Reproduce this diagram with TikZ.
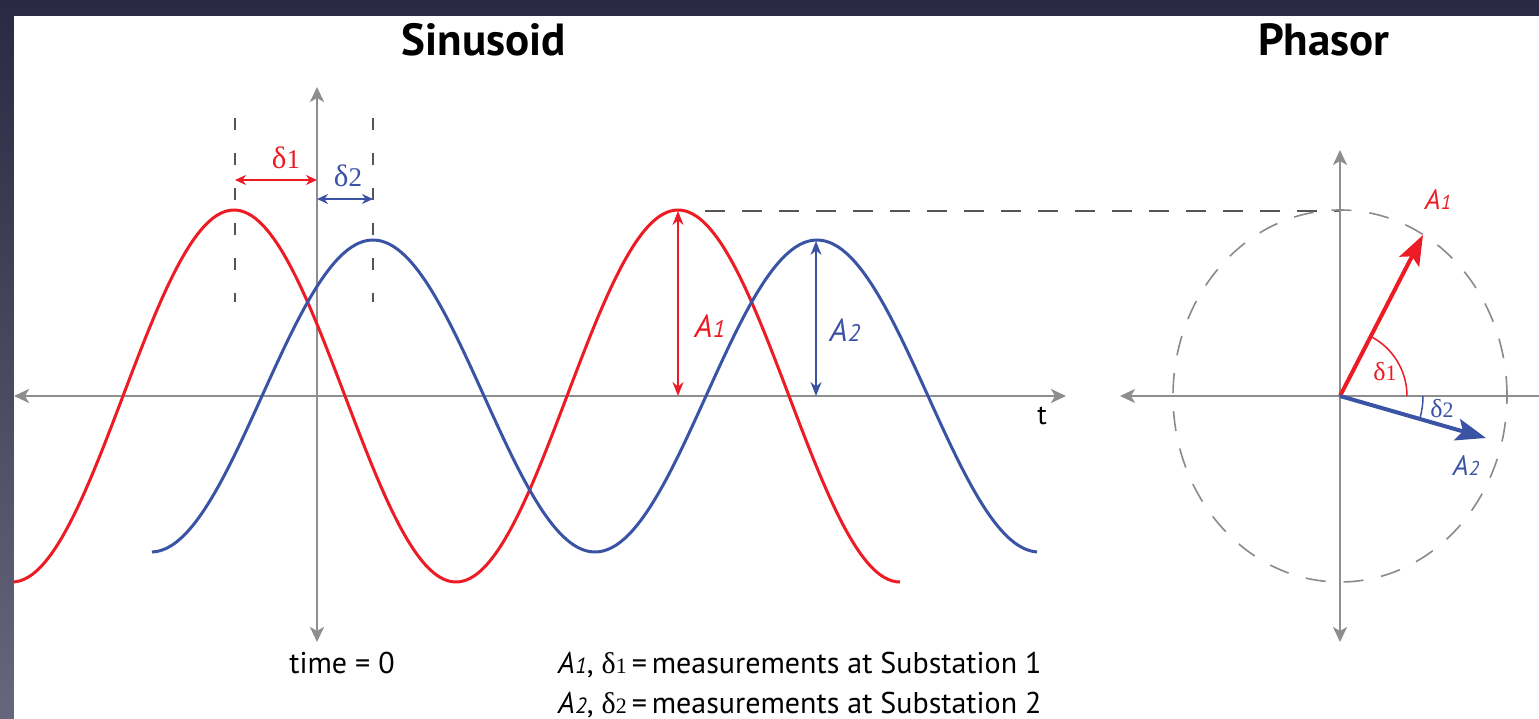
\documentclass[tikz,border=0pt]{standalone}
\usepackage{fontspec}
\setmainfont{PT Sans}
\newfontfamily\serifgr{Liberation Serif}
\usetikzlibrary{arrows.meta}
\definecolor{sred}{HTML}{ED1C24}
\definecolor{sblue}{HTML}{3A53A4}
\definecolor{axgray}{HTML}{8E8E8E}
\definecolor{dashgray}{HTML}{555555}
\definecolor{circgray}{HTML}{8A8A8A}
\definecolor{bgtop}{HTML}{2A2943}
\definecolor{bgbot}{HTML}{66667C}
\newcommand{\myA}[3]{{\fontsize{#1}{#1}\selectfont\itshape A\kern0.5pt{\fontsize{#2}{#2}\selectfont #3}}}
\newcommand{\myD}[3]{{\serifgr\fontsize{#1}{#1}\selectfont δ{\fontsize{#2}{#2}\selectfont #3}}}
\tikzset{
  axisline/.style={draw=axgray, line width=2.6pt, -{Stealth[length=15pt,width=14pt,inset=4pt]}},
  redwave/.style={draw=sred, line width=3pt},
  bluewave/.style={draw=sblue, line width=3pt},
  vdash/.style={draw=dashgray, line width=2pt, dash pattern=on 12pt off 23pt},
  hdash/.style={draw=dashgray, line width=2pt, dash pattern=on 20pt off 17pt},
  circdash/.style={draw=circgray, line width=1.6pt, dash pattern=on 20pt off 18pt},
  dimred/.style={draw=sred, line width=2pt, {Stealth[length=11pt,width=10pt]}-{Stealth[length=11pt,width=10pt]}},
  dimblue/.style={draw=sblue, line width=2pt, {Stealth[length=11pt,width=10pt]}-{Stealth[length=11pt,width=10pt]}},
  amped/.style={line width=1.5pt, {Stealth[length=14pt,width=11pt]}-{Stealth[length=14pt,width=11pt]}},
  vecarrow/.style={line width=4pt, -{Stealth[length=30pt,width=22pt,inset=6pt]}},
  lbl/.style={inner sep=0pt},
  title/.style={inner sep=0pt, font=\fontsize{45}{45}\selectfont\bfseries},
}
\begin{document}
\begin{tikzpicture}[x=1pt, y=-1pt]
\useasboundingbox (0,0) rectangle (1539,719);
\shade[top color=bgtop, bottom color=bgbot] (0,0) rectangle (1539,719);
\fill[white] (14,16) rectangle (1539,719);

% titles
\node[title] (tsin) at (484,40) {Sinusoid};
\node[title] (tpha) at (1324,40) {Phasor};

% sinusoid axes
\coordinate (hL) at (14,396);
\coordinate (hR) at (1066,396);
\coordinate (o) at (317,396);
\coordinate (vT) at (317,87);
\coordinate (vB) at (317,642);
\draw[axisline] (o) -- (hL);
\draw[axisline] (o) -- (hR);
\draw[axisline] (o) -- (vT);
\draw[axisline] (o) -- (vB);
\node[lbl, font=\fontsize{28}{28}\selectfont] (tl) at (1042,416) {t};

% waves
\draw[redwave] plot[domain=14:900, samples=240, smooth] (\x, {396-186*cos(0.810811*(\x-234))});
\draw[bluewave] plot[domain=152:1037, samples=240, smooth] (\x, {396-156*cos(0.810811*(\x-373))});

% delta markers
\coordinate (d1t) at (235,118);
\coordinate (d1b) at (235,302);
\coordinate (d2t) at (373,118);
\coordinate (d2b) at (373,302);
\draw[vdash] (d1t) -- (d1b);
\draw[vdash] (d2t) -- (d2b);
\coordinate (d1a) at (235,180);
\coordinate (d1c) at (317,180);
\coordinate (d2a) at (317,199);
\coordinate (d2c) at (373,199);
\draw[dimred] (d1a) -- (d1c);
\draw[dimblue] (d2a) -- (d2c);
\node[lbl, text=sred] (ld1) at (286,158) {\myD{31}{27}{1}};
\node[lbl, text=sblue] (ld2) at (348,176) {\myD{31}{27}{2}};

% amplitudes
\coordinate (a1t) at (678,211);
\coordinate (a1b) at (678,396);
\coordinate (a2t) at (816,241);
\coordinate (a2b) at (816,396);
\draw[amped, draw=sred, fill=sred] (a1t) -- (a1b);
\draw[amped, draw=sblue, fill=sblue] (a2t) -- (a2b);
\node[lbl, text=sred] (la1) at (710,326) {\myA{32}{24}{1}};
\node[lbl, text=sblue] (la2) at (845,330) {\myA{32}{24}{2}};

% peak reference dashed line
\coordinate (pk1) at (705,211);
\coordinate (pk2) at (1340,211);
\draw[hdash] (pk1) -- (pk2);

% phasor axes
\coordinate (c) at (1340,396);
\coordinate (pL) at (1120,396);
\coordinate (pR) at (1545,396);
\coordinate (pT) at (1340,150);
\coordinate (pB) at (1340,642);
\draw[axgray, line width=2pt] (c) -- (pR);
\draw[axisline, line width=2pt] (c) -- (pL);
\draw[axisline, line width=2pt] (c) -- (pT);
\draw[axisline, line width=2pt] (c) -- (pB);
\draw[circdash] (c) ellipse[x radius=167pt, y radius=186pt];

% angle arcs
\draw[sred, line width=1.5pt] (1407,396) arc[start angle=0, end angle=63, radius=67pt];
\draw[sblue, line width=1.5pt] (1423,396) arc[start angle=0, end angle=-16, radius=83pt];

% vectors
\coordinate (v1) at (1423,235);
\coordinate (v2) at (1486,438);
\draw[vecarrow, draw=sred, fill=sred] (c) -- (v1);
\draw[vecarrow, draw=sblue, fill=sblue] (c) -- (v2);
\node[lbl, text=sred] (pa1) at (1438,200) {\myA{28}{20}{1}};
\node[lbl, text=sblue] (pa2) at (1466,466) {\myA{28}{20}{2}};
\node[lbl, text=sred] (pd1) at (1385,372) {\myD{26}{22}{1}};
\node[lbl, text=sblue] (pd2) at (1442,409) {\myD{26}{22}{2}};

% bottom texts
\node[lbl, anchor=base, font=\fontsize{30}{30}\selectfont] (time) at (342,673) {time = 0};
\node[lbl, anchor=base west, font=\fontsize{30}{30}\selectfont] (leg1) at (558,673) {\myA{30}{22}{1}, \myD{30}{22}{1}\,=\,measurements at Substation 1};
\node[lbl, anchor=base west, font=\fontsize{30}{30}\selectfont] (leg2) at (558,713) {\myA{30}{22}{2}, \myD{30}{22}{2}\,=\,measurements at Substation 2};
\end{tikzpicture}
\end{document}
